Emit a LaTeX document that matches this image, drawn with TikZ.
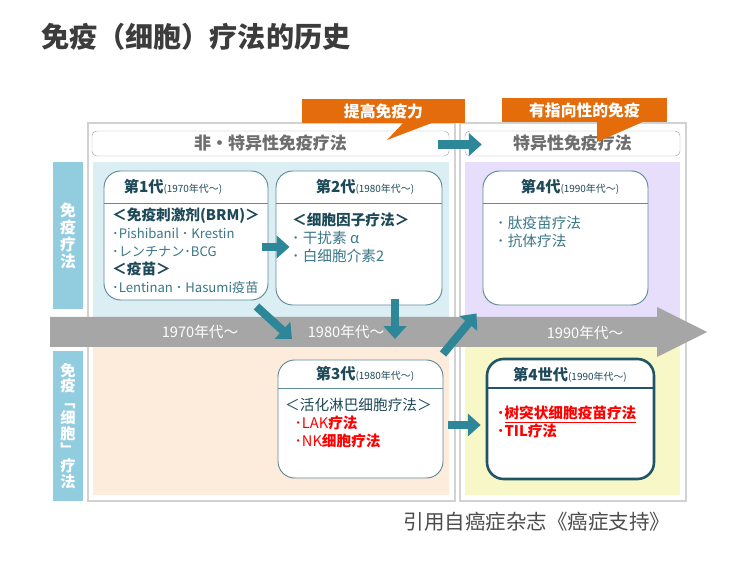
\documentclass[tikz,border=0pt]{standalone}
\usepackage{fontspec}
\setmainfont{Noto Sans CJK SC}
\usetikzlibrary{arrows.meta, positioning, calc}
\definecolor{titlegray}{HTML}{3C3C3C}
\definecolor{arrowteal}{HTML}{2E8799}
\definecolor{timegray}{HTML}{A6A6A6}
\definecolor{sideblue}{HTML}{92CDDF}
\definecolor{zoneblue}{HTML}{DBEEF4}
\definecolor{zonelilac}{HTML}{E6DEFB}
\definecolor{zonepeach}{HTML}{FDEBDC}
\definecolor{zoneyellow}{HTML}{F8F7C8}
\definecolor{calloutorange}{HTML}{E46C0A}
\definecolor{boxedge}{HTML}{5E8B97}
\definecolor{boxdark}{HTML}{1F5566}
\definecolor{headtext}{HTML}{1D4958}
\definecolor{itemtext}{HTML}{3A7787}
\definecolor{framegray}{HTML}{D2D2D2}
\definecolor{hdrgray}{HTML}{6E6E6E}
\newcommand{\genhead}[2]{\textbf{\fontsize{13}{15}\selectfont #1}{\fontsize{8.5}{10}\selectfont (#2年代～)}}
\newcommand{\latinline}[1]{{\fontsize{11.2}{15.3}\selectfont #1}}

\begin{document}
\begin{tikzpicture}[
    x=0.03cm, y=-0.03cm,
    frame/.style={draw=framegray, line width=1.5pt},
    hdrbox/.style={draw=gray!70, rounded corners=4pt, fill=white, text=hdrgray,
                   font=\bfseries\fontsize{14.5}{16}\selectfont, inner sep=0, minimum height=0.75cm},
    callout/.style={fill=calloutorange, text=white, font=\bfseries\fontsize{13.5}{15}\selectfont,
                    inner sep=0, minimum height=0.72cm},
    genbox/.style={draw=boxedge, line width=0.8pt, fill=white, rounded corners=5mm, inner sep=0},
    genhead/.style={text=headtext, inner sep=0},
    gentext/.style={text=itemtext, align=left, anchor=north west, inner sep=0,
                    font=\fontsize{12.5}{15.3}\selectfont},
    sidelabel/.style={fill=sideblue, text=white, align=center, minimum width=0.9cm, inner sep=0},
    blockarrow/.style={draw=arrowteal, line width=7pt, -{Triangle[length=11pt, width=19pt]}},
    yeartext/.style={text=white, font=\fontsize{12.5}{14}\selectfont}
]
\useasboundingbox (0,0) rectangle (750,572);
\node[anchor=west, text=titlegray, font=\bfseries\fontsize{24}{28}\selectfont] (title) at (37,37) {免疫（细胞）疗法的历史};

% frames and zones
\draw[frame] (88,123) rectangle (455,501);
\draw[frame] (460,123) rectangle (686,501);
\fill[zoneblue] (93,162) rectangle (449,320);
\fill[zonelilac] (465,162) rectangle (680,320);
\fill[zonepeach] (93,345) rectangle (449,495);
\fill[zoneyellow] (465,345) rectangle (680,495);

\node[sidelabel, minimum height=4.41cm, font=\bfseries\fontsize{13.5}{14.5}\selectfont] (sidetop) at (68,235.5) {免\\疫\\疗\\法};
\node[sidelabel, minimum height=4.47cm, font=\bfseries\fontsize{13}{13.6}\selectfont] (sidebot) at (68,426) {免\\疫\\﹁\\细\\胞\\﹂\\疗\\法};

\node[hdrbox, minimum width=10.71cm] (hdr1) at (270.5,143.5) {非・特异性免疫疗法};
\node[hdrbox, minimum width=6.45cm] (hdr2) at (572.5,143.5) {特异性免疫疗法};

% timeline
\fill[timegray] (50,317) -- (657,317) -- (657,307) -- (707,332) -- (657,357) -- (657,347) -- (50,347) -- cycle;
\node[yeartext] (y70) at (200,332) {1970年代～};
\node[yeartext] (y80) at (346,332) {1980年代～};
\node[yeartext] (y90) at (585,333) {1990年代～};
\coordinate (in80) at (292,339);
\coordinate (down80) at (395,339);
\coordinate (out90) at (443,354);

% generations
\node[genbox, minimum width=4.92cm, minimum height=3.87cm] (gen1) at (186,235.5) {};
\draw[boxedge, line width=0.8pt] (gen1.west |- 0,203) -- (gen1.east |- 0,203);
\node[genhead] (gen1head) at (173,187) {\genhead{第1代}{1970}};
\node[gentext] (gen1text) at (112,208) {{\color{headtext}\textbf{＜免疫刺激剂(BRM)＞}}\\
  \latinline{･Pishibanil ･ Krestin}\\
  \latinline{･レンチナン･BCG}\\
  {\color{headtext}\textbf{＜疫苗＞}}\\
  \latinline{･Lentinan ･ Hasumi疫苗}};

\node[genbox, minimum width=4.98cm, minimum height=4.02cm] (gen2) at (359,238) {};
\draw[boxedge, line width=0.8pt] (gen2.west |- 0,203) -- (gen2.east |- 0,203);
\node[genhead] (gen2head) at (365,187) {\genhead{第2代}{1980}};
\node[gentext] (gen2text) at (292,213) {{\color{headtext}\textbf{＜细胞因子疗法＞}}\\
  ･ 干扰素 α\\
  ･ 白细胞介素2};

\node[genbox, minimum width=4.95cm, minimum height=4.02cm] (gen4) at (565.5,238) {};
\draw[boxedge, line width=0.8pt] (gen4.west |- 0,203) -- (gen4.east |- 0,203);
\node[genhead] (gen4head) at (570,187) {\genhead{第4代}{1990}};
\node[gentext] (gen4text) at (497,216) {･ 肽疫苗疗法\\
  ･ 抗体疗法};

\node[genbox, minimum width=4.95cm, minimum height=3.54cm] (gen3) at (360.5,419) {};
\draw[boxedge, line width=0.8pt] (gen3.west |- 0,388) -- (gen3.east |- 0,388);
\node[genhead] (gen3head) at (365,374) {\genhead{第3代}{1980}};
\node[gentext] (gen3text) at (285,398) {{\color{headtext}＜活化淋巴细胞疗法＞}\\
  \hspace*{8pt}{\color{red}･LAK\textbf{疗法}}\\
  \hspace*{8pt}{\color{red}･NK\textbf{细胞疗法}}};

\node[genbox, draw=boxdark, line width=2.2pt, minimum width=5.01cm, minimum height=3.6cm] (gen4s) at (570.5,419) {};
\draw[boxdark, line width=2.2pt] (gen4s.west |- 0,388) -- (gen4s.east |- 0,388);
\node[genhead] (gen4shead) at (570,375) {\genhead{第4世代}{1990}};
\node[gentext, text=red] (gen4stext) at (497,406) {\textbf{･\underline{树突状细胞疫苗疗法}}\\
  \textbf{･TIL疗法}};

% arrows
\draw[blockarrow] ($(hdr1.east)+(-11,1)$) -- ($(hdr2.west)+(17,1)$);
\draw[blockarrow] ($(gen1.east)+(-6,11.5)$) -- ($(gen2.west)+(14,9)$);
\draw[blockarrow] ($(gen1.south east)+(-12,6)$) -- (in80);
\draw[blockarrow] ($(gen2.south)+(36,-6)$) -- (down80);
\draw[blockarrow] (out90) -- ($(gen4.south west)+(-6,8)$);
\draw[blockarrow] ($(gen3.east)+(5,6)$) -- ($(gen4s.west)+(-5,6)$);

% callouts
\node[callout, minimum width=4.89cm] (boost) at (383.5,111) {提高免疫力};
\fill[calloutorange] (405,121) -- (437,121) -- (387,140) -- cycle;
\node[callout, minimum width=4.95cm] (target) at (584.5,110) {有指向性的免疫};
\fill[calloutorange] (597,121) -- (645,121) -- (597,142) -- cycle;

\node[text=black!70, font=\fontsize{17.5}{20}\selectfont] (source) at (537,522) {引用自癌症杂志《癌症支持》};
\end{tikzpicture}
\end{document}
